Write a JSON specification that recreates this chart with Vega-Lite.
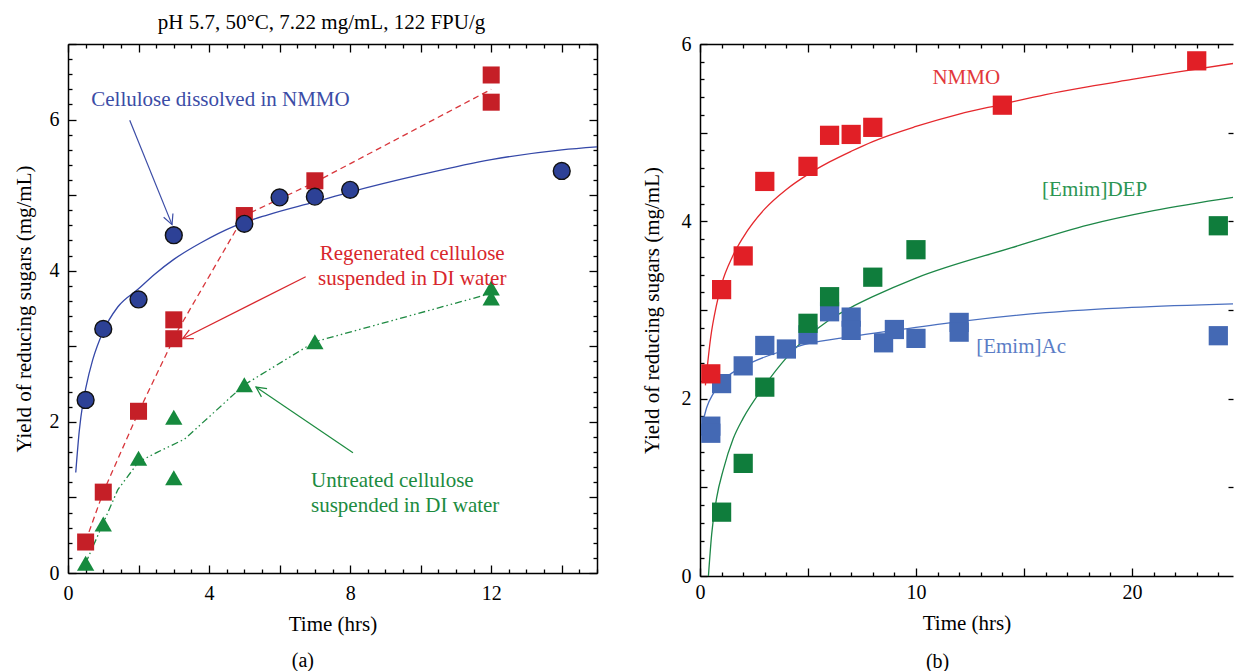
{
  "$schema": "https://vega.github.io/schema/vega-lite/v6.json",
  "background": "white",
  "padding": {"left": 13, "top": 12, "right": 0, "bottom": 0},
  "bounds": "flush",
  "spacing": 103,
  "resolve": {"scale": {"color": "independent"}},
  "config": {
    "view": {"stroke": null},
    "axis": {
      "labelFont": "Liberation Serif", "labelFontSize": 20, "labelColor": "black",
      "titleFont": "Liberation Serif", "titleFontSize": 21, "titleFontWeight": "normal", "titleColor": "black",
      "domainColor": "black", "domainWidth": 1.5, "tickColor": "black", "tickWidth": 1.3,
      "grid": false, "labelOverlap": false, "labelFlush": false, "labelBound": false, "format": "d"
    },
    "title": {"font": "Liberation Serif", "fontSize": 21, "fontWeight": "normal", "color": "black"},
    "text": {"font": "Liberation Serif"}
  },
  "datasets": {
    "a_pts": [
      {"s": "dissolved", "t": 0.5, "v": 2.29}, {"s": "dissolved", "t": 1, "v": 3.23}, {"s": "dissolved", "t": 2, "v": 3.62},
      {"s": "dissolved", "t": 3, "v": 4.47}, {"s": "dissolved", "t": 5, "v": 4.62}, {"s": "dissolved", "t": 6, "v": 4.97},
      {"s": "dissolved", "t": 7, "v": 4.98}, {"s": "dissolved", "t": 8, "v": 5.07}, {"s": "dissolved", "t": 14, "v": 5.32},
      {"s": "regenerated", "t": 0.5, "v": 0.41}, {"s": "regenerated", "t": 1, "v": 1.07}, {"s": "regenerated", "t": 2, "v": 2.14},
      {"s": "regenerated", "t": 3, "v": 3.1}, {"s": "regenerated", "t": 3, "v": 3.35}, {"s": "regenerated", "t": 5, "v": 4.73},
      {"s": "regenerated", "t": 7, "v": 5.19}, {"s": "regenerated", "t": 12, "v": 6.59}, {"s": "regenerated", "t": 12, "v": 6.23},
      {"s": "untreated", "t": 0.5, "v": 0.13}, {"s": "untreated", "t": 1, "v": 0.65}, {"s": "untreated", "t": 2, "v": 1.52},
      {"s": "untreated", "t": 3, "v": 2.06}, {"s": "untreated", "t": 3, "v": 1.26}, {"s": "untreated", "t": 5, "v": 2.49},
      {"s": "untreated", "t": 7, "v": 3.06}, {"s": "untreated", "t": 12, "v": 3.77}, {"s": "untreated", "t": 12, "v": 3.64}
    ],
    "a_fit": [
      {"s": "dissolved", "t": 0.22, "v": 1.33}, {"s": "dissolved", "t": 0.32, "v": 1.88}, {"s": "dissolved", "t": 0.42, "v": 2.24},
      {"s": "dissolved", "t": 0.51, "v": 2.46}, {"s": "dissolved", "t": 0.7, "v": 2.82}, {"s": "dissolved", "t": 1.0, "v": 3.2},
      {"s": "dissolved", "t": 1.41, "v": 3.52}, {"s": "dissolved", "t": 2.0, "v": 3.76}, {"s": "dissolved", "t": 2.45, "v": 3.95},
      {"s": "dissolved", "t": 3.0, "v": 4.15}, {"s": "dissolved", "t": 3.77, "v": 4.37}, {"s": "dissolved", "t": 4.72, "v": 4.59},
      {"s": "dissolved", "t": 5.67, "v": 4.74}, {"s": "dissolved", "t": 7.0, "v": 4.91}, {"s": "dissolved", "t": 8.0, "v": 5.04},
      {"s": "dissolved", "t": 10.0, "v": 5.27}, {"s": "dissolved", "t": 12.0, "v": 5.47}, {"s": "dissolved", "t": 14.0, "v": 5.6},
      {"s": "dissolved", "t": 15.0, "v": 5.64},
      {"s": "regenerated", "t": 0.5, "v": 0.42}, {"s": "regenerated", "t": 1, "v": 1.07}, {"s": "regenerated", "t": 2, "v": 2.13},
      {"s": "regenerated", "t": 3.1, "v": 3.2}, {"s": "regenerated", "t": 5, "v": 4.73}, {"s": "regenerated", "t": 7, "v": 5.17},
      {"s": "regenerated", "t": 12, "v": 6.4},
      {"s": "untreated", "t": 0.5, "v": 0.13}, {"s": "untreated", "t": 1, "v": 0.66}, {"s": "untreated", "t": 1.41, "v": 1.1},
      {"s": "untreated", "t": 2, "v": 1.47}, {"s": "untreated", "t": 2.54, "v": 1.6}, {"s": "untreated", "t": 3.3, "v": 1.77},
      {"s": "untreated", "t": 4.15, "v": 2.13}, {"s": "untreated", "t": 5, "v": 2.49}, {"s": "untreated", "t": 7, "v": 3.06},
      {"s": "untreated", "t": 12, "v": 3.7}
    ],
    "a_arrow": [
      {"s": "dissolved", "t1": 1.75, "v1": 5.99, "t2": 2.95, "v2": 4.61},
      {"s": "regenerated", "t1": 6.74, "v1": 3.92, "t2": 3.25, "v2": 3.1},
      {"s": "untreated", "t1": 8.08, "v1": 1.59, "t2": 5.33, "v2": 2.46}
    ],
    "a_note": [
      {"s": "dissolved", "t": 0.66, "v": 6.26, "text": "Cellulose dissolved in NMMO"},
      {"s": "regenerated", "t": 9.76, "v": 4.22, "text": "Regenerated cellulose"},
      {"s": "regenerated", "t": 9.76, "v": 3.89, "text": "suspended in DI water"},
      {"s": "untreated", "t": 6.89, "v": 1.22, "text": "Untreated cellulose"},
      {"s": "untreated", "t": 6.89, "v": 0.88, "text": "suspended in DI water"},
      {"s": "panel", "t": 6.66, "v": -1.17, "text": "(a)"}
    ],
    "b_pts": [
      {"s": "NMMO", "t": 0.5, "v": 2.28}, {"s": "NMMO", "t": 1, "v": 3.23}, {"s": "NMMO", "t": 2, "v": 3.61},
      {"s": "NMMO", "t": 3, "v": 4.45}, {"s": "NMMO", "t": 5, "v": 4.62}, {"s": "NMMO", "t": 6, "v": 4.97},
      {"s": "NMMO", "t": 7, "v": 4.98}, {"s": "NMMO", "t": 8, "v": 5.06}, {"s": "NMMO", "t": 14, "v": 5.31},
      {"s": "NMMO", "t": 23, "v": 5.81},
      {"s": "DEP", "t": 1, "v": 0.72}, {"s": "DEP", "t": 2, "v": 1.27}, {"s": "DEP", "t": 3, "v": 2.13},
      {"s": "DEP", "t": 5, "v": 2.85}, {"s": "DEP", "t": 6, "v": 3.15}, {"s": "DEP", "t": 8, "v": 3.37},
      {"s": "DEP", "t": 10, "v": 3.68}, {"s": "DEP", "t": 24, "v": 3.95},
      {"s": "Ac", "t": 0.5, "v": 1.69}, {"s": "Ac", "t": 0.5, "v": 1.61}, {"s": "Ac", "t": 1, "v": 2.17},
      {"s": "Ac", "t": 2, "v": 2.37}, {"s": "Ac", "t": 3, "v": 2.6}, {"s": "Ac", "t": 4, "v": 2.56},
      {"s": "Ac", "t": 5, "v": 2.72}, {"s": "Ac", "t": 6, "v": 2.98}, {"s": "Ac", "t": 7, "v": 2.92},
      {"s": "Ac", "t": 7, "v": 2.77}, {"s": "Ac", "t": 8.5, "v": 2.63}, {"s": "Ac", "t": 9, "v": 2.78},
      {"s": "Ac", "t": 10, "v": 2.68}, {"s": "Ac", "t": 12, "v": 2.86}, {"s": "Ac", "t": 12, "v": 2.75},
      {"s": "Ac", "t": 24, "v": 2.71}
    ],
    "b_fit": [
      {"s": "NMMO", "t": 0.25, "v": 2.15}, {"s": "NMMO", "t": 0.5, "v": 2.7}, {"s": "NMMO", "t": 0.75, "v": 3.04},
      {"s": "NMMO", "t": 1.0, "v": 3.29}, {"s": "NMMO", "t": 1.5, "v": 3.6}, {"s": "NMMO", "t": 2.0, "v": 3.82},
      {"s": "NMMO", "t": 3.0, "v": 4.14}, {"s": "NMMO", "t": 4.0, "v": 4.36}, {"s": "NMMO", "t": 5.0, "v": 4.53},
      {"s": "NMMO", "t": 6.0, "v": 4.67}, {"s": "NMMO", "t": 7.0, "v": 4.79}, {"s": "NMMO", "t": 8.0, "v": 4.9},
      {"s": "NMMO", "t": 10.0, "v": 5.07}, {"s": "NMMO", "t": 12.0, "v": 5.21}, {"s": "NMMO", "t": 14.0, "v": 5.32},
      {"s": "NMMO", "t": 16.0, "v": 5.43}, {"s": "NMMO", "t": 18.0, "v": 5.52}, {"s": "NMMO", "t": 20.0, "v": 5.6},
      {"s": "NMMO", "t": 22.0, "v": 5.68}, {"s": "NMMO", "t": 24.68, "v": 5.78},
      {"s": "DEP", "t": 0.39, "v": 0.0}, {"s": "DEP", "t": 0.54, "v": 0.47}, {"s": "DEP", "t": 0.77, "v": 0.88},
      {"s": "DEP", "t": 1.08, "v": 1.2}, {"s": "DEP", "t": 1.54, "v": 1.55}, {"s": "DEP", "t": 2.0, "v": 1.78},
      {"s": "DEP", "t": 3.0, "v": 2.15}, {"s": "DEP", "t": 4.0, "v": 2.46}, {"s": "DEP", "t": 5.0, "v": 2.7},
      {"s": "DEP", "t": 6.0, "v": 2.89}, {"s": "DEP", "t": 7.0, "v": 3.03}, {"s": "DEP", "t": 8.0, "v": 3.15},
      {"s": "DEP", "t": 10.0, "v": 3.36}, {"s": "DEP", "t": 14.4, "v": 3.7}, {"s": "DEP", "t": 18.0, "v": 3.96},
      {"s": "DEP", "t": 21.0, "v": 4.12}, {"s": "DEP", "t": 24.68, "v": 4.27},
      {"s": "Ac", "t": 0.12, "v": 1.72}, {"s": "Ac", "t": 0.31, "v": 1.9}, {"s": "Ac", "t": 0.62, "v": 2.06},
      {"s": "Ac", "t": 1.0, "v": 2.19}, {"s": "Ac", "t": 2.0, "v": 2.36}, {"s": "Ac", "t": 3.0, "v": 2.47},
      {"s": "Ac", "t": 4.0, "v": 2.55}, {"s": "Ac", "t": 5.0, "v": 2.62}, {"s": "Ac", "t": 7.0, "v": 2.7},
      {"s": "Ac", "t": 9.0, "v": 2.77}, {"s": "Ac", "t": 12.0, "v": 2.87}, {"s": "Ac", "t": 16.0, "v": 2.97},
      {"s": "Ac", "t": 20.0, "v": 3.03}, {"s": "Ac", "t": 24.68, "v": 3.07}
    ],
    "b_note": [
      {"s": "NMMO", "t": 10.76, "v": 5.615, "text": "NMMO"},
      {"s": "DEP", "t": 15.84, "v": 4.35, "text": "[Emim]DEP"},
      {"s": "Ac", "t": 12.79, "v": 2.58, "text": "[Emim]Ac"},
      {"s": "panel", "t": 11.0, "v": -0.97, "text": "(b)"}
    ]
  },
  "hconcat": [
    {
      "width": 529,
      "height": 529,
      "title": {"text": "pH 5.7, 50°C, 7.22 mg/mL, 122 FPU/g", "offset": 1, "dx": -11, "anchor": "middle"},
      "resolve": {"axis": {"x": "independent", "y": "independent"}},
      "layer": [
        {
          "data": {"name": "a_fit"},
          "transform": [{"filter": "datum.s == 'dissolved'"}],
          "mark": {"type": "line", "color": "#3548a8", "strokeWidth": 1.3, "interpolate": "monotone"},
          "encoding": {
            "x": {"field": "t", "type": "quantitative", "scale": {"domain": [0, 15], "nice": false, "zero": false},
              "axis": {"orient": "bottom", "values": [0,0.5,1,1.5,2,2.5,3,3.5,4,4.5,5,5.5,6,6.5,7,7.5,8,8.5,9,9.5,10,10.5,11,11.5,12,12.5,13,13.5,14,14.5,15],
                "labelExpr": "datum.value % 4 == 0 ? datum.label : ''",
                "tickSize": {"condition": {"test": "datum.value % 2 == 0", "value": -8}, "value": -4},
                "labelPadding": 18, "title": "Time (hrs)", "titlePadding": 6}},
            "y": {"field": "v", "type": "quantitative", "scale": {"domain": [0, 7], "nice": false, "zero": false},
              "axis": {"orient": "left", "values": [0,0.2,0.4,0.6,0.8,1,1.2,1.4,1.6,1.8,2,2.2,2.4,2.6,2.8,3,3.2,3.4,3.6,3.8,4,4.2,4.4,4.6,4.8,5,5.2,5.4,5.6,5.8,6,6.2,6.4,6.6,6.8,7],
                "labelExpr": "datum.value % 2 == 0 ? datum.label : ''",
                "tickSize": {"condition": {"test": "abs(datum.value - round(datum.value)) < 0.01", "value": -8}, "value": -4},
                "labelPadding": 17, "title": "Yield of reducing sugars (mg/mL)", "titlePadding": 15}}
          }
        },
        {
          "data": {"name": "a_fit"},
          "transform": [{"filter": "datum.s == 'regenerated'"}],
          "mark": {"type": "line", "color": "#d8363b", "strokeWidth": 1.3, "strokeDash": [6, 4]},
          "encoding": {
            "x": {"field": "t", "type": "quantitative", "scale": {"domain": [0, 15], "nice": false, "zero": false},
              "axis": {"orient": "top", "values": [0,0.5,1,1.5,2,2.5,3,3.5,4,4.5,5,5.5,6,6.5,7,7.5,8,8.5,9,9.5,10,10.5,11,11.5,12,12.5,13,13.5,14,14.5,15],
                "labels": false, "title": null,
                "tickSize": {"condition": {"test": "datum.value % 2 == 0", "value": -8}, "value": -4}}},
            "y": {"field": "v", "type": "quantitative", "scale": {"domain": [0, 7], "nice": false, "zero": false},
              "axis": {"orient": "right", "values": [0,0.2,0.4,0.6,0.8,1,1.2,1.4,1.6,1.8,2,2.2,2.4,2.6,2.8,3,3.2,3.4,3.6,3.8,4,4.2,4.4,4.6,4.8,5,5.2,5.4,5.6,5.8,6,6.2,6.4,6.6,6.8,7],
                "labels": false, "title": null,
                "tickSize": {"condition": {"test": "abs(datum.value - round(datum.value)) < 0.01", "value": -8}, "value": -4}}}
          }
        },
        {
          "data": {"name": "a_fit"},
          "transform": [{"filter": "datum.s == 'untreated'"}],
          "mark": {"type": "line", "color": "#1e8a42", "strokeWidth": 1.3, "strokeDash": [7, 3, 1.5, 3, 1.5, 3]},
          "encoding": {
            "x": {"field": "t", "type": "quantitative", "scale": {"domain": [0, 15], "nice": false, "zero": false}, "axis": null},
            "y": {"field": "v", "type": "quantitative", "scale": {"domain": [0, 7], "nice": false, "zero": false}, "axis": null}
          }
        },
        {
          "data": {"name": "a_pts"},
          "transform": [{"filter": "datum.s == 'regenerated'"}],
          "mark": {"type": "point", "shape": "square", "filled": true, "color": "#c51f27", "size": 290, "opacity": 1, "strokeWidth": 0},
          "encoding": {
            "x": {"field": "t", "type": "quantitative", "scale": {"domain": [0, 15], "nice": false, "zero": false}, "axis": null},
            "y": {"field": "v", "type": "quantitative", "scale": {"domain": [0, 7], "nice": false, "zero": false}, "axis": null}
          }
        },
        {
          "data": {"name": "a_pts"},
          "transform": [{"filter": "datum.s == 'untreated'"}],
          "mark": {"type": "point", "shape": "triangle-up", "filled": true, "color": "#168a3e", "size": 300, "opacity": 1, "strokeWidth": 0},
          "encoding": {
            "x": {"field": "t", "type": "quantitative", "scale": {"domain": [0, 15], "nice": false, "zero": false}, "axis": null},
            "y": {"field": "v", "type": "quantitative", "scale": {"domain": [0, 7], "nice": false, "zero": false}, "axis": null}
          }
        },
        {
          "data": {"name": "a_pts"},
          "transform": [{"filter": "datum.s == 'dissolved'"}],
          "mark": {"type": "point", "shape": "circle", "filled": true, "fill": "#2d4196", "stroke": "#111111", "strokeWidth": 1.4, "size": 285, "opacity": 1},
          "encoding": {
            "x": {"field": "t", "type": "quantitative", "scale": {"domain": [0, 15], "nice": false, "zero": false}, "axis": null},
            "y": {"field": "v", "type": "quantitative", "scale": {"domain": [0, 7], "nice": false, "zero": false}, "axis": null}
          }
        },
        {
          "data": {"name": "a_arrow"},
          "mark": {"type": "rule", "strokeWidth": 1.2},
          "encoding": {
            "x": {"field": "t1", "type": "quantitative", "scale": {"domain": [0, 15], "nice": false, "zero": false}, "axis": null},
            "y": {"field": "v1", "type": "quantitative", "scale": {"domain": [0, 7], "nice": false, "zero": false}, "axis": null},
            "x2": {"field": "t2"},
            "y2": {"field": "v2"},
            "color": {"field": "s", "type": "nominal", "scale": {"domain": ["dissolved", "regenerated", "untreated"], "range": ["#3b4ca6", "#d8262c", "#1c8b3f"]}, "legend": null}
          }
        },
        {
          "data": {"name": "a_arrow"},
          "transform": [{"filter": "datum.s == 'dissolved'"}],
          "mark": {"type": "point", "shape": "M -1 -0.5 L 0 0 L -1 0.5", "filled": false, "color": "#3b4ca6", "strokeWidth": 1.2, "size": 400, "angle": 68, "opacity": 1},
          "encoding": {
            "x": {"field": "t2", "type": "quantitative", "scale": {"domain": [0, 15], "nice": false, "zero": false}, "axis": null},
            "y": {"field": "v2", "type": "quantitative", "scale": {"domain": [0, 7], "nice": false, "zero": false}, "axis": null}
          }
        },
        {
          "data": {"name": "a_arrow"},
          "transform": [{"filter": "datum.s == 'regenerated'"}],
          "mark": {"type": "point", "shape": "M -1 -0.5 L 0 0 L -1 0.5", "filled": false, "color": "#d8262c", "strokeWidth": 1.2, "size": 400, "angle": 153.4, "opacity": 1},
          "encoding": {
            "x": {"field": "t2", "type": "quantitative", "scale": {"domain": [0, 15], "nice": false, "zero": false}, "axis": null},
            "y": {"field": "v2", "type": "quantitative", "scale": {"domain": [0, 7], "nice": false, "zero": false}, "axis": null}
          }
        },
        {
          "data": {"name": "a_arrow"},
          "transform": [{"filter": "datum.s == 'untreated'"}],
          "mark": {"type": "point", "shape": "M -1 -0.5 L 0 0 L -1 0.5", "filled": false, "color": "#1c8b3f", "strokeWidth": 1.2, "size": 400, "angle": 214.2, "opacity": 1},
          "encoding": {
            "x": {"field": "t2", "type": "quantitative", "scale": {"domain": [0, 15], "nice": false, "zero": false}, "axis": null},
            "y": {"field": "v2", "type": "quantitative", "scale": {"domain": [0, 7], "nice": false, "zero": false}, "axis": null}
          }
        },
        {
          "data": {"name": "a_note"},
          "transform": [{"filter": "datum.s == 'dissolved' || datum.s == 'untreated'"}],
          "mark": {"type": "text", "align": "left", "baseline": "middle", "fontSize": 21},
          "encoding": {
            "x": {"field": "t", "type": "quantitative", "scale": {"domain": [0, 15], "nice": false, "zero": false}, "axis": null},
            "y": {"field": "v", "type": "quantitative", "scale": {"domain": [0, 7], "nice": false, "zero": false}, "axis": null},
            "text": {"field": "text"},
            "color": {"field": "s", "type": "nominal", "scale": {"domain": ["dissolved", "regenerated", "untreated"], "range": ["#3b4ca6", "#d8262c", "#1c8b3f"]}, "legend": null}
          }
        },
        {
          "data": {"name": "a_note"},
          "transform": [{"filter": "datum.s == 'regenerated'"}],
          "mark": {"type": "text", "align": "center", "baseline": "middle", "fontSize": 21, "color": "#d8262c"},
          "encoding": {
            "x": {"field": "t", "type": "quantitative", "scale": {"domain": [0, 15], "nice": false, "zero": false}, "axis": null},
            "y": {"field": "v", "type": "quantitative", "scale": {"domain": [0, 7], "nice": false, "zero": false}, "axis": null},
            "text": {"field": "text"}
          }
        },
        {
          "data": {"name": "a_note"},
          "transform": [{"filter": "datum.s == 'panel'"}],
          "mark": {"type": "text", "align": "center", "baseline": "middle", "fontSize": 20, "color": "black"},
          "encoding": {
            "x": {"field": "t", "type": "quantitative", "scale": {"domain": [0, 15], "nice": false, "zero": false}, "axis": null},
            "y": {"field": "v", "type": "quantitative", "scale": {"domain": [0, 7], "nice": false, "zero": false}, "axis": null},
            "text": {"field": "text"}
          }
        }
      ]
    },
    {
      "width": 533,
      "height": 532,
      "resolve": {"axis": {"x": "independent", "y": "independent"}},
      "layer": [
        {
          "data": {"name": "b_fit"},
          "transform": [{"filter": "datum.s == 'NMMO'"}],
          "mark": {"type": "line", "color": "#e5282d", "strokeWidth": 1.3, "interpolate": "monotone"},
          "encoding": {
            "x": {"field": "t", "type": "quantitative", "scale": {"domain": [0, 24.68], "nice": false, "zero": false},
              "axis": {"orient": "bottom", "values": [0,1,2,3,4,5,6,7,8,9,10,11,12,13,14,15,16,17,18,19,20,21,22,23,24],
                "labelExpr": "datum.value % 10 == 0 ? datum.label : ''",
                "tickSize": {"condition": {"test": "datum.value % 5 == 0", "value": -8}, "value": -4},
                "labelPadding": 14, "title": "Time (hrs)", "titlePadding": 6}},
            "y": {"field": "v", "type": "quantitative", "scale": {"domain": [0, 6], "nice": false, "zero": false},
              "axis": {"orient": "left", "values": [0,0.2,0.4,0.6,0.8,1,1.2,1.4,1.6,1.8,2,2.2,2.4,2.6,2.8,3,3.2,3.4,3.6,3.8,4,4.2,4.4,4.6,4.8,5,5.2,5.4,5.6,5.8,6],
                "labelExpr": "datum.value % 2 == 0 ? datum.label : ''",
                "tickSize": {"condition": {"test": "abs(datum.value - round(datum.value)) < 0.01", "value": -7}, "value": -4},
                "labelPadding": 16, "title": "Yield of reducing sugars (mg/mL)", "titlePadding": 19}}
          }
        },
        {
          "data": {"name": "b_fit"},
          "transform": [{"filter": "datum.s == 'DEP'"}],
          "mark": {"type": "line", "color": "#1d8747", "strokeWidth": 1.3, "interpolate": "monotone"},
          "encoding": {
            "x": {"field": "t", "type": "quantitative", "scale": {"domain": [0, 24.68], "nice": false, "zero": false},
              "axis": {"orient": "top", "values": [0,1,2,3,4,5,6,7,8,9,10,11,12,13,14,15,16,17,18,19,20,21,22,23,24],
                "labels": false, "title": null,
                "tickSize": {"condition": {"test": "datum.value % 5 == 0", "value": -8}, "value": -4}}},
            "y": {"field": "v", "type": "quantitative", "scale": {"domain": [0, 6], "nice": false, "zero": false},
              "axis": {"orient": "right", "values": [1,2,3,4,5], "labels": false, "title": null, "domain": false, "tickSize": -5}}
          }
        },
        {
          "data": {"name": "b_fit"},
          "transform": [{"filter": "datum.s == 'Ac'"}],
          "mark": {"type": "line", "color": "#4a6fbf", "strokeWidth": 1.3, "interpolate": "monotone"},
          "encoding": {
            "x": {"field": "t", "type": "quantitative", "scale": {"domain": [0, 24.68], "nice": false, "zero": false}, "axis": null},
            "y": {"field": "v", "type": "quantitative", "scale": {"domain": [0, 6], "nice": false, "zero": false}, "axis": null}
          }
        },
        {
          "data": {"name": "b_pts"},
          "transform": [{"filter": "datum.s == 'Ac'"}],
          "mark": {"type": "point", "shape": "square", "filled": true, "color": "#4469b4", "size": 370, "opacity": 1, "strokeWidth": 0},
          "encoding": {
            "x": {"field": "t", "type": "quantitative", "scale": {"domain": [0, 24.68], "nice": false, "zero": false}, "axis": null},
            "y": {"field": "v", "type": "quantitative", "scale": {"domain": [0, 6], "nice": false, "zero": false}, "axis": null}
          }
        },
        {
          "data": {"name": "b_pts"},
          "transform": [{"filter": "datum.s == 'DEP'"}],
          "mark": {"type": "point", "shape": "square", "filled": true, "color": "#0f7d3c", "size": 370, "opacity": 1, "strokeWidth": 0},
          "encoding": {
            "x": {"field": "t", "type": "quantitative", "scale": {"domain": [0, 24.68], "nice": false, "zero": false}, "axis": null},
            "y": {"field": "v", "type": "quantitative", "scale": {"domain": [0, 6], "nice": false, "zero": false}, "axis": null}
          }
        },
        {
          "data": {"name": "b_pts"},
          "transform": [{"filter": "datum.s == 'NMMO'"}],
          "mark": {"type": "point", "shape": "square", "filled": true, "color": "#e11f26", "size": 370, "opacity": 1, "strokeWidth": 0},
          "encoding": {
            "x": {"field": "t", "type": "quantitative", "scale": {"domain": [0, 24.68], "nice": false, "zero": false}, "axis": null},
            "y": {"field": "v", "type": "quantitative", "scale": {"domain": [0, 6], "nice": false, "zero": false}, "axis": null}
          }
        },
        {
          "data": {"name": "b_note"},
          "transform": [{"filter": "datum.s != 'panel'"}],
          "mark": {"type": "text", "align": "left", "baseline": "middle", "fontSize": 21},
          "encoding": {
            "x": {"field": "t", "type": "quantitative", "scale": {"domain": [0, 24.68], "nice": false, "zero": false}, "axis": null},
            "y": {"field": "v", "type": "quantitative", "scale": {"domain": [0, 6], "nice": false, "zero": false}, "axis": null},
            "text": {"field": "text"},
            "color": {"field": "s", "type": "nominal", "scale": {"domain": ["NMMO", "DEP", "Ac"], "range": ["#e2383b", "#2b9553", "#5b7dc6"]}, "legend": null}
          }
        },
        {
          "data": {"name": "b_note"},
          "transform": [{"filter": "datum.s == 'panel'"}],
          "mark": {"type": "text", "align": "center", "baseline": "middle", "fontSize": 20, "color": "black"},
          "encoding": {
            "x": {"field": "t", "type": "quantitative", "scale": {"domain": [0, 24.68], "nice": false, "zero": false}, "axis": null},
            "y": {"field": "v", "type": "quantitative", "scale": {"domain": [0, 6], "nice": false, "zero": false}, "axis": null},
            "text": {"field": "text"}
          }
        }
      ]
    }
  ]
}
